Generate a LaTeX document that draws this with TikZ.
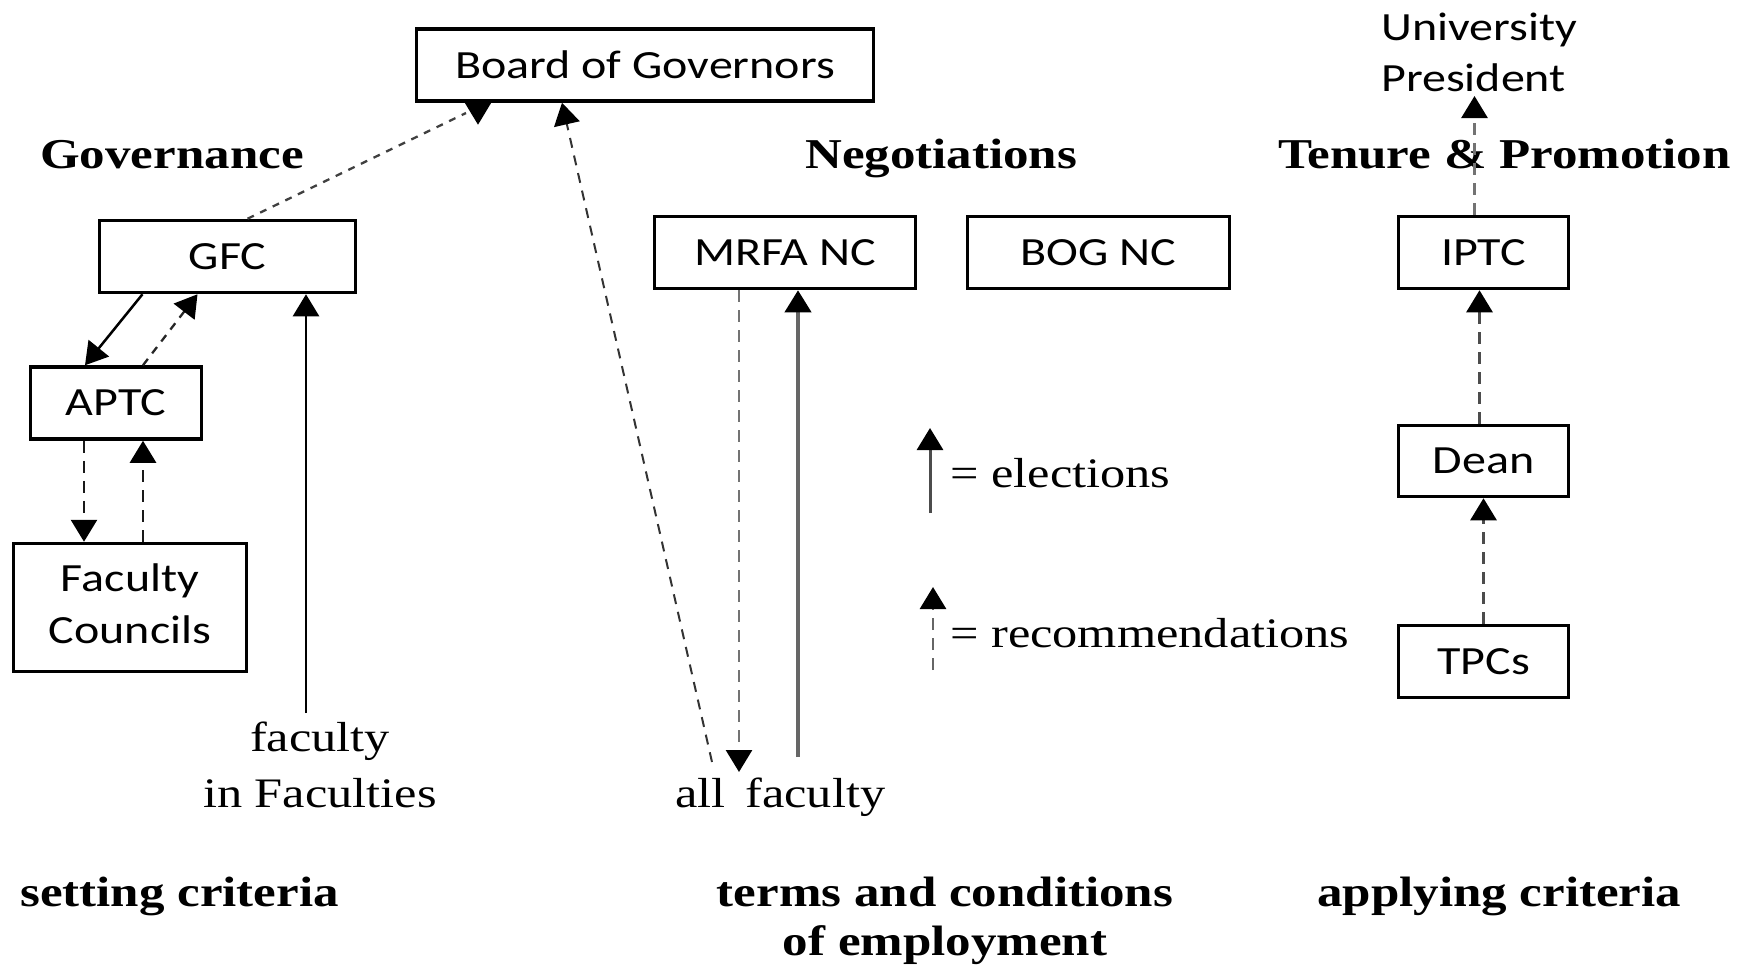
\documentclass[tikz,border=0pt]{standalone}
\usepackage{graphicx}
\usepackage{fontspec}
\setmainfont{Liberation Serif}
\newfontfamily\carl{Carlito}
\usetikzlibrary{arrows.meta}
\newcommand\hs[1]{\scalebox{1.2}[1]{#1}}
\begin{document}
\begin{tikzpicture}[x=1pt,y=-1pt,
  box/.style={draw, line width=3.5pt, minimum width=#1, minimum height=72pt, inner sep=0pt, font=\carl\fontsize{40}{52}\selectfont},
  lbl/.style={inner sep=0pt, anchor=base west},
  hd/.style={lbl, font=\bfseries\fontsize{42.5}{49}\selectfont},
  rg/.style={lbl, font=\fontsize{42}{56}\selectfont},
  sl/.style={lbl, font=\carl\fontsize{40}{51}\selectfont},
  ahead/.style={-{Triangle[width=26pt,length=22pt,color=black]}},
  sol/.style={ahead, line width=2.5pt},
  dsh/.style={ahead, line width=2.8pt, dash pattern=on 12pt off 8pt},
]
\useasboundingbox (0,0) rectangle (1758,964);

% boxes
\node[box=457] (bog) at (645,65) {\hs{Board of Governors}};
\node[box=256] (gfc) at (227.5,256.5) {\hs{GFC}};
\node[box=171] (aptc) at (116,403) {\hs{APTC}};
\node[box=233, minimum height=128pt] (fc) at (130,607.5) {\hs{\begin{tabular}{@{}c@{}}Faculty\\Councils\end{tabular}}};
\node[box=261] (mrfa) at (785,252.5) {\hs{MRFA NC}};
\node[box=262] (bognc) at (1098.5,252.5) {\hs{BOG NC}};
\node[box=170] (iptc) at (1483.5,252.5) {\hs{IPTC}};
\node[box=170, minimum height=71pt] (dean) at (1483.5,461) {\hs{Dean}};
\node[box=170] (tpcs) at (1483.5,661.5) {\hs{TPCs}};

% labels
\node[hd] (gov) at (40,168) {\hs{Governance}};
\node[hd] (neg) at (805,168) {\hs{Negotiations}};
\node[hd] (tp) at (1278,168) {\hs{Tenure \& Promotion}};
\node[sl] (pres) at (1381,40) {\hs{\begin{tabular}[t]{@{}l@{}}University\\President\end{tabular}}};
\node[rg, anchor=base] (fif) at (320,751) {\hs{\begin{tabular}[t]{@{}c@{}}faculty\\in Faculties\end{tabular}}};
\node[rg] (allf) at (675,807) {\hs{all\hspace{6pt} faculty}};
\node[rg] (elec) at (950,487) {\hs{= elections}};
\node[rg] (reco) at (950,647) {\hs{= recommendations}};
\node[hd] (set) at (20,906) {\hs{setting criteria}};
\node[hd, anchor=base] (terms) at (945,906) {\hs{\begin{tabular}[t]{@{}c@{}}terms and conditions\\of employment\end{tabular}}};
\node[hd] (app) at (1317,906) {\hs{applying criteria}};

% governance connectors
\draw[sol] ([xshift=-85pt]gfc.south) -- ([xshift=-31pt]aptc.north);
\draw[dsh, line width=2.3pt, dash pattern=on 8pt off 7pt, black!85] ([xshift=27pt]aptc.north) -- ([xshift=-30pt]gfc.south);
\draw[dsh, black!90] ([xshift=-32pt]aptc.south) -- ([xshift=-46pt]fc.north);
\draw[dsh, black!90] ([xshift=13pt]fc.north) -- ([xshift=27pt]aptc.south);
\coordinate (ffbot) at (306,713);
\draw[sol] (ffbot) -- (ffbot |- gfc.south);
\coordinate (bgend) at (466,113);
\draw[line width=2.3pt, dash pattern=on 7pt off 7pt, black!75] ([xshift=20pt]gfc.north) -- (bgend);
\coordinate (bgb) at ([xshift=-167pt]bog.south);
\draw[ahead, line width=2pt] (bgb) -- ++(0,22);

% negotiations connectors
\coordinate (afA) at (712,762);
\draw[dsh, line width=2pt, dash pattern=on 10pt off 8pt, black!80] (afA) -- ([xshift=-83pt]bog.south);
\coordinate (afB) at (739,772);
\draw[dsh, black!55] ([xshift=-46pt]mrfa.south) -- (afB);
\coordinate (afC) at (798,757);
\draw[sol, black!60, line width=4pt] (afC) -- (afC |- mrfa.south);

% tenure connectors
\coordinate (prestip) at (1474.5,96);
\draw[dsh, black!55] ([xshift=-9pt]iptc.north) -- (prestip);
\draw[dsh, black!70] ([xshift=-4pt]dean.north) -- ([xshift=-4pt]iptc.south);
\draw[dsh, black!70] (tpcs.north) -- (dean.south);

% legend
\coordinate (le1) at (930,513);
\draw[sol, black!70, line width=3pt] (le1) -- ++(0,-85);
\coordinate (lr1) at (933,670);
\draw[dsh, black!60] (lr1) -- ++(0,-83);
\end{tikzpicture}
\end{document}
